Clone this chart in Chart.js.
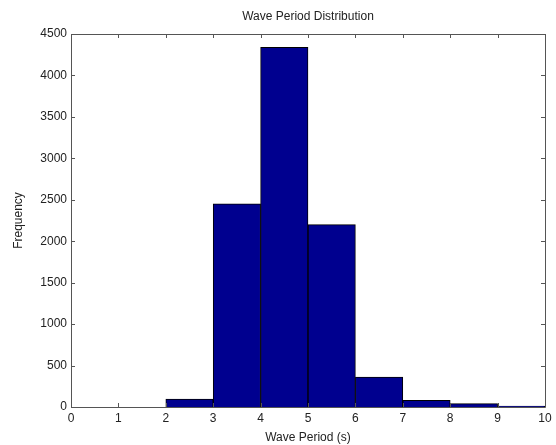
<!DOCTYPE html>
<html>
<head>
<meta charset="utf-8">
<script src="https://cdn.jsdelivr.net/npm/chart.js@4/dist/chart.umd.min.js"></script>
<style>
html,body{margin:0;padding:0;background:#fff;}
#wrap{width:556px;height:445px;position:relative;}
</style>
</head>
<body>
<div id="wrap"><canvas id="c" width="556" height="445"></canvas></div>
<script>
// Data
const binCenters = [0.5, 1.5, 2.5, 3.5, 4.5, 5.5, 6.5, 7.5, 8.5, 9.5];
const frequencies = [0, 0, 95, 2450, 4340, 2200, 360, 80, 40, 12];
const xTicks = [0, 1, 2, 3, 4, 5, 6, 7, 8, 9, 10];
const yTicks = [0, 500, 1000, 1500, 2000, 2500, 3000, 3500, 4000, 4500];
const chartTitle = 'Wave Period Distribution';
const xTitle = 'Wave Period (s)';
const yTitle = 'Frequency';

const FONT = 'Liberation Sans, Arial, sans-serif';
const TXT = '#222';

const boxTicks = {
  id: 'boxTicks',
  afterDatasetsDraw(chart) {
    const ctx = chart.ctx, a = chart.chartArea;
    const xs = chart.scales.x, ys = chart.scales.y;
    ctx.save();
    ctx.strokeStyle = '#555';
    ctx.lineWidth = 1;
    ctx.beginPath();
    ctx.rect(Math.round(a.left) + 0.5, Math.round(a.top) + 0.5, Math.round(a.right - a.left), Math.round(a.bottom - a.top));
    ctx.stroke();
    const L = 4;
    ctx.beginPath();
    xTicks.forEach(v => {
      const p = Math.round(xs.getPixelForValue(v)) + 0.5;
      ctx.moveTo(p, a.bottom); ctx.lineTo(p, a.bottom - L);
      ctx.moveTo(p, a.top); ctx.lineTo(p, a.top + L);
    });
    yTicks.forEach(v => {
      const p = Math.round(ys.getPixelForValue(v)) + 0.5;
      ctx.moveTo(a.left, p); ctx.lineTo(a.left + L, p);
      ctx.moveTo(a.right, p); ctx.lineTo(a.right - L, p);
    });
    ctx.stroke();
    // title centred over the plot area
    ctx.fillStyle = TXT;
    ctx.font = '12px ' + FONT;
    ctx.textAlign = 'center';
    ctx.textBaseline = 'middle';
    ctx.fillText(chartTitle, (a.left + a.right) / 2, 17);
    ctx.restore();
  }
};

new Chart(document.getElementById('c'), {
  type: 'bar',
  data: {
    datasets: [{
      data: binCenters.map((x, i) => ({x: x, y: frequencies[i]})),
      backgroundColor: '#00008F',
      borderColor: '#000000',
      borderWidth: 1,
      barPercentage: 1,
      categoryPercentage: 1
    }]
  },
  options: {
    responsive: false,
    animation: false,
    layout: {padding: {left: 11, right: 11, top: 34, bottom: 0}},
    plugins: {
      legend: {display: false},
      tooltip: {enabled: false},
      title: {display: false}
    },
    scales: {
      x: {
        type: 'linear',
        min: 0, max: 10,
        offset: false,
        grid: {display: false, drawTicks: false},
        border: {display: false},
        afterBuildTicks: s => { s.ticks = xTicks.map(v => ({value: v})); },
        ticks: {color: TXT, font: {family: FONT, size: 12}, padding: 4, maxRotation: 0,
                callback: v => String(v)},
        title: {display: true, text: xTitle, color: TXT, font: {family: FONT, size: 12}, padding: {top: 0, bottom: 0}},
        afterFit: s => { s.height = 38; }
      },
      y: {
        min: 0, max: 4500,
        grid: {display: false, drawTicks: false},
        border: {display: false},
        afterBuildTicks: s => { s.ticks = yTicks.map(v => ({value: v})); },
        ticks: {color: TXT, font: {family: FONT, size: 12}, padding: 4,
                callback: v => String(v)},
        title: {display: true, text: yTitle, color: TXT, font: {family: FONT, size: 12}, padding: {top: 0, bottom: 0}},
        afterFit: s => { s.width = 60; }
      }
    }
  },
  plugins: [boxTicks]
});
</script>
</body>
</html>
